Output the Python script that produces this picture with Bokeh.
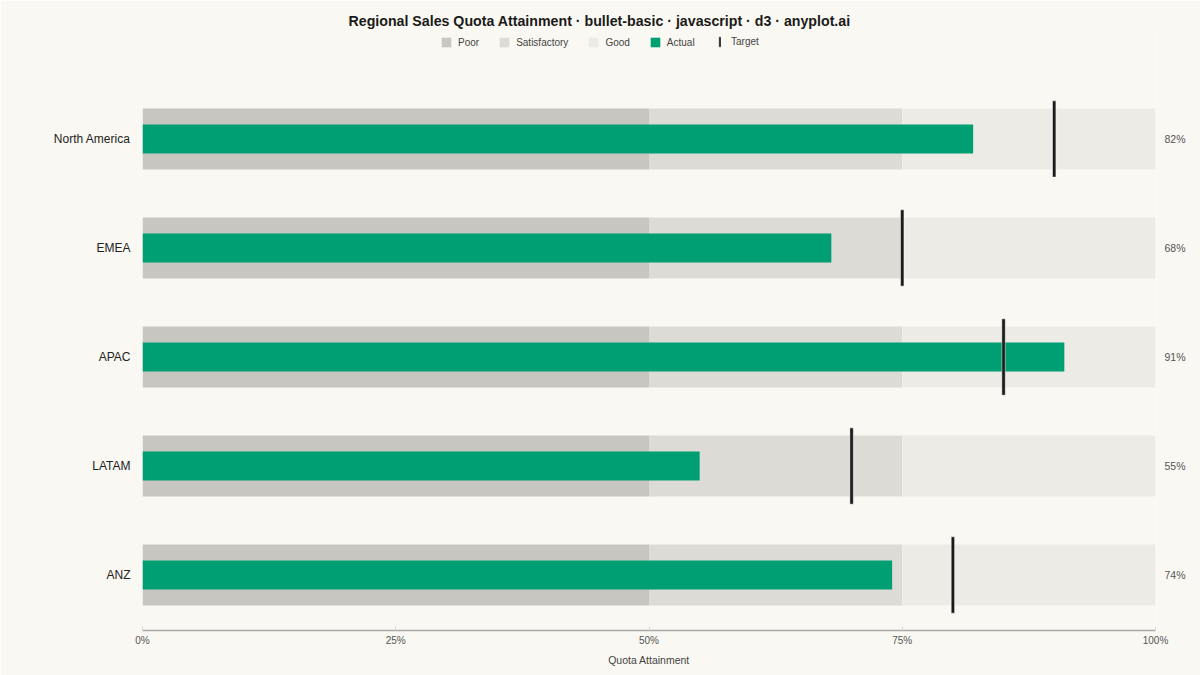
from bokeh.plotting import figure
from bokeh.models import (Range1d, FixedTicker, LinearAxis, Legend, LegendItem,
                          ColumnDataSource, PrintfTickFormatter)
from bokeh.embed import file_html
from bokeh.resources import INLINE

# ---- data ----
regions = ["North America", "EMEA", "APAC", "LATAM", "ANZ"]
actual = [82, 68, 91, 55, 74]
target = [90, 75, 85, 70, 80]
range_names = ["Poor", "Satisfactory", "Good"]
range_edges = [0, 50, 75, 100]
x_ticks = [0, 25, 50, 75, 100]

# ---- style ----
FONT = "Liberation Sans"
BG = "#faf8f2"
BAND_COLORS = ["#c8c6c1", "#dcdbd5", "#edebe5"]
GREEN = "#009e73"
TARGET_COLOR = "#1a1a1a"

n = len(regions)
rows = list(range(n))

p = figure(width=1200, height=675, output_backend="svg", toolbar_location=None,
           x_range=Range1d(0, 100), y_range=Range1d(4.509, -0.995),
           min_border_left=142, min_border_right=45, min_border_top=30,
           min_border_bottom=45,
           background_fill_color=BG, border_fill_color=BG, outline_line_color=None)
p.xgrid.visible = False
p.ygrid.visible = False

# qualitative range bands
band_renderers = []
for k, name in enumerate(range_names):
    src = ColumnDataSource(dict(y=rows,
                                left=[range_edges[k]] * n,
                                right=[range_edges[k + 1]] * n))
    r = p.hbar(y="y", left="left", right="right", height=0.56, source=src,
               fill_color=BAND_COLORS[k], line_color=None)
    band_renderers.append(r)

# actual bars
actual_r = p.hbar(y=rows, left=0, right=actual, height=0.266,
                  fill_color=GREEN, line_color=None)

# target markers
target_r = p.rect(x=target, y=rows, width=3.4, width_units="screen", height=0.70,
                  fill_color=TARGET_COLOR, line_color="#ffffff", line_alpha=0.6,
                  line_width=0.8)

# left axis: region names
yax = p.yaxis[0]
yax.ticker = FixedTicker(ticks=rows)
yax.major_label_overrides = {i: regions[i] for i in rows}
yax.axis_line_color = None
yax.major_tick_line_color = None
yax.minor_tick_line_color = None
yax.major_label_standoff = 6
yax.major_label_text_font = FONT
yax.major_label_text_font_size = "12px"
yax.major_label_text_color = "#222222"

# right axis: actual values
rax = LinearAxis(ticker=FixedTicker(ticks=rows),
                 major_label_overrides={i: f"{actual[i]}%" for i in rows})
rax.axis_line_color = None
rax.major_tick_line_color = None
rax.minor_tick_line_color = None
rax.major_label_standoff = 3
rax.major_label_text_font = FONT
rax.major_label_text_font_size = "10.5px"
rax.major_label_text_color = "#555555"
p.add_layout(rax, "right")

# bottom axis
xax = p.xaxis[0]
xax.ticker = FixedTicker(ticks=x_ticks)
xax.formatter = PrintfTickFormatter(format="%d%%")
xax.axis_line_color = "#a8a8a8"
xax.axis_line_width = 1.5
xax.major_tick_in = 4
xax.major_tick_out = 0
xax.major_tick_line_color = "#d8d8d8"
xax.minor_tick_line_color = None
xax.major_label_standoff = 4
xax.major_label_text_font = FONT
xax.major_label_text_font_size = "10px"
xax.major_label_text_color = "#555555"
xax.axis_label = "Quota Attainment"
xax.axis_label_standoff = 5
xax.axis_label_text_font = FONT
xax.axis_label_text_font_size = "10.5px"
xax.axis_label_text_font_style = "normal"
xax.axis_label_text_color = "#444444"

# title
p.title.text = "Regional Sales Quota Attainment · bullet-basic · javascript · d3 · anyplot.ai"
p.title.align = "left"
p.title.offset = 206
p.title.standoff = 4
p.title.text_font = FONT
p.title.text_font_size = "14.2px"
p.title.text_font_style = "bold"
p.title.text_color = "#1a1a1a"

# legends
common = dict(orientation="horizontal", padding=0, margin=0,
              background_fill_alpha=0, border_line_alpha=0,
              label_text_font=FONT, label_text_font_size="10px",
              label_text_color="#444444", label_height=12)
leg1 = Legend(items=[LegendItem(label=range_names[k], renderers=[band_renderers[k]])
                     for k in range(len(range_names))]
              + [LegendItem(label="Actual", renderers=[actual_r])],
              location=(298, 582), glyph_width=12, glyph_height=12,
              label_standoff=6, spacing=19, **common)
leg2 = Legend(items=[LegendItem(label="Target", renderers=[target_r])],
              location=(576, 582), glyph_width=3, glyph_height=13,
              label_standoff=10, spacing=0, **common)
p.add_layout(leg1)
p.add_layout(leg2)

open("out.html", "w").write(file_html(p, INLINE))
